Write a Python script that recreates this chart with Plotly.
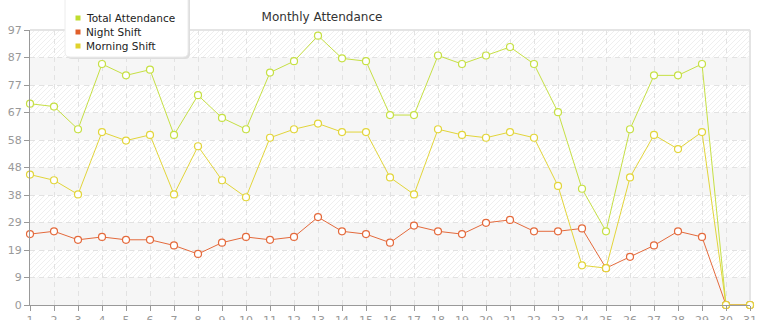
import base64
import plotly.graph_objects as go

days = list(range(1, 32))
total_attendance = [71, 70, 62, 85, 81, 83, 60, 74, 66, 62, 82, 86, 95, 87, 86, 67, 67, 88, 85, 88,
                    91, 85, 68, 41, 26, 62, 81, 81, 85, 0, 0]
night_shift = [25, 26, 23, 24, 23, 23, 21, 18, 22, 24, 23, 24, 31, 26, 25, 22, 28, 26, 25, 29,
               30, 26, 26, 27, 13, 17, 21, 26, 24, 0, 0]
morning_shift = [46, 44, 39, 61, 58, 60, 39, 56, 44, 38, 59, 62, 64, 61, 61, 45, 39, 62, 60, 59,
                 61, 59, 42, 14, 13, 45, 60, 55, 61, 0, 0]
series_names = ["Total Attendance", "Night Shift", "Morning Shift"]
series_colors = ["#c6e044", "#e46a3c", "#e2d53a"]
legend_colors = ["#bfdc2e", "#e05f2a", "#e0d22c"]
y_max = 97
y_ticks = [round(y_max * i / 10, 2) for i in range(11)]
y_tick_text = [str(int(v)) for v in y_ticks]

W, H = 765, 320
ML, MR, MT, MB = 30, 15, 30, 15
PW, PH = W - ML - MR, H - MT - MB


def px2paper(px, py):
    return (px - ML) / PW, (H - MB - py) / PH


# background: alternating hatched / plain bands
band_h = PH / 10
rects = "".join(
    f"<rect x='0' y='{band_h * k:.2f}' width='{PW}' height='{band_h:.2f}' fill='#f6f6f6'/>"
    for k in range(1, 10, 2)
)
svg = (
    f"<svg xmlns='http://www.w3.org/2000/svg' width='{PW}' height='{PH}' viewBox='0 0 {PW} {PH}' preserveAspectRatio='none'>"
    "<defs><pattern id='h' patternUnits='userSpaceOnUse' width='5' height='5'>"
    "<rect width='5' height='5' fill='#ffffff'/>"
    "<path d='M-1,1 l2,-2 M0,5 l5,-5 M4,6 l2,-2' stroke='#efefef' stroke-width='1'/>"
    "</pattern></defs>"
    f"<rect width='{PW}' height='{PH}' fill='url(#h)'/>" + rects + "</svg>"
)
svg_uri = "data:image/svg+xml;base64," + base64.b64encode(svg.encode()).decode()

fig = go.Figure()
for name, vals, col in zip(series_names, [total_attendance, night_shift, morning_shift], series_colors):
    fig.add_trace(go.Scatter(
        x=days, y=vals, name=name, mode="lines+markers",
        line=dict(color=col, width=1),
        marker=dict(symbol="circle", size=7, color="white", line=dict(color=col, width=1.2)),
        cliponaxis=False, showlegend=False,
    ))

shapes = []
# top & right light border
shapes.append(dict(type="line", xref="paper", yref="paper", x0=0, x1=1, y0=1, y1=1,
                   line=dict(color="#e4e4e4", width=2), layer="below"))
shapes.append(dict(type="line", xref="paper", yref="paper", x0=1, x1=1, y0=0, y1=1,
                   line=dict(color="#e4e4e4", width=2), layer="below"))

# custom legend box
def rounded_path(x0, y0, x1, y1, r):
    a0, b0 = px2paper(x0, y0)
    a1, b1 = px2paper(x1, y1)
    rx, ry = r / PW, r / PH
    return (f"M{a0 + rx},{b0} L{a1 - rx},{b0} Q{a1},{b0} {a1},{b0 - ry} "
            f"L{a1},{b1 + ry} Q{a1},{b1} {a1 - rx},{b1} L{a0 + rx},{b1} "
            f"Q{a0},{b1} {a0},{b1 + ry} L{a0},{b0 - ry} Q{a0},{b0} {a0 + rx},{b0} Z")

shapes.append(dict(type="path", xref="paper", yref="paper", path=rounded_path(67, -6, 190, 59, 5),
                   fillcolor="#dedede", line=dict(width=0), layer="above"))
shapes.append(dict(type="path", xref="paper", yref="paper", path=rounded_path(65, -8, 188, 57, 5),
                   fillcolor="white", line=dict(color="#ececec", width=1), layer="above"))

annotations = []
legend_y = [18, 32, 46]
for name, col, py in zip(series_names, legend_colors, legend_y):
    sx0, sy0 = px2paper(75.5, py - 2.5)
    sx1, sy1 = px2paper(80.5, py + 2.5)
    shapes.append(dict(type="rect", xref="paper", yref="paper", x0=sx0, x1=sx1, y0=sy1, y1=sy0,
                       fillcolor=col, line=dict(width=0), layer="above"))
    tx, ty = px2paper(84, py)
    annotations.append(dict(text=name, xref="paper", yref="paper", x=tx, y=ty, xanchor="left",
                            yanchor="middle", showarrow=False,
                            font=dict(family="DejaVu Sans", size=10.5, color="#222222")))

fig.update_layout(
    width=W, height=H,
    margin=dict(l=ML, r=MR, t=MT, b=MB, pad=0),
    paper_bgcolor="white", plot_bgcolor="white",
    title=dict(text="Monthly Attendance", x=322 / W, xanchor="center", y=1 - 17 / H, yanchor="middle",
               font=dict(family="DejaVu Sans", size=12, color="#333333")),
    images=[dict(source=svg_uri, xref="paper", yref="paper", x=0, y=1, sizex=1, sizey=1,
                 xanchor="left", yanchor="top", sizing="stretch", layer="below")],
    shapes=shapes,
    annotations=annotations,
    xaxis=dict(range=[1, 31], tickvals=days, ticktext=[str(d) for d in days], automargin=False,
               showgrid=True, gridcolor="#e2e2e2", gridwidth=1, griddash="5px,4px",
               showline=True, linecolor="#999999", linewidth=1,
               ticks="outside", ticklen=5, tickcolor="#999999", tickwidth=1,
               tickfont=dict(family="DejaVu Sans", size=11, color="#999999"),
               zeroline=False, fixedrange=True),
    yaxis=dict(range=[0, y_max], tickvals=y_ticks, ticktext=y_tick_text, automargin=False,
               showgrid=True, gridcolor="#e2e2e2", gridwidth=1, griddash="5px,4px",
               showline=True, linecolor="#999999", linewidth=1,
               ticks="outside", ticklen=5, tickcolor="#999999", tickwidth=1,
               tickfont=dict(family="DejaVu Sans", size=11, color="#999999"),
               zeroline=False, fixedrange=True),
)

fig.write_html("out.html")
